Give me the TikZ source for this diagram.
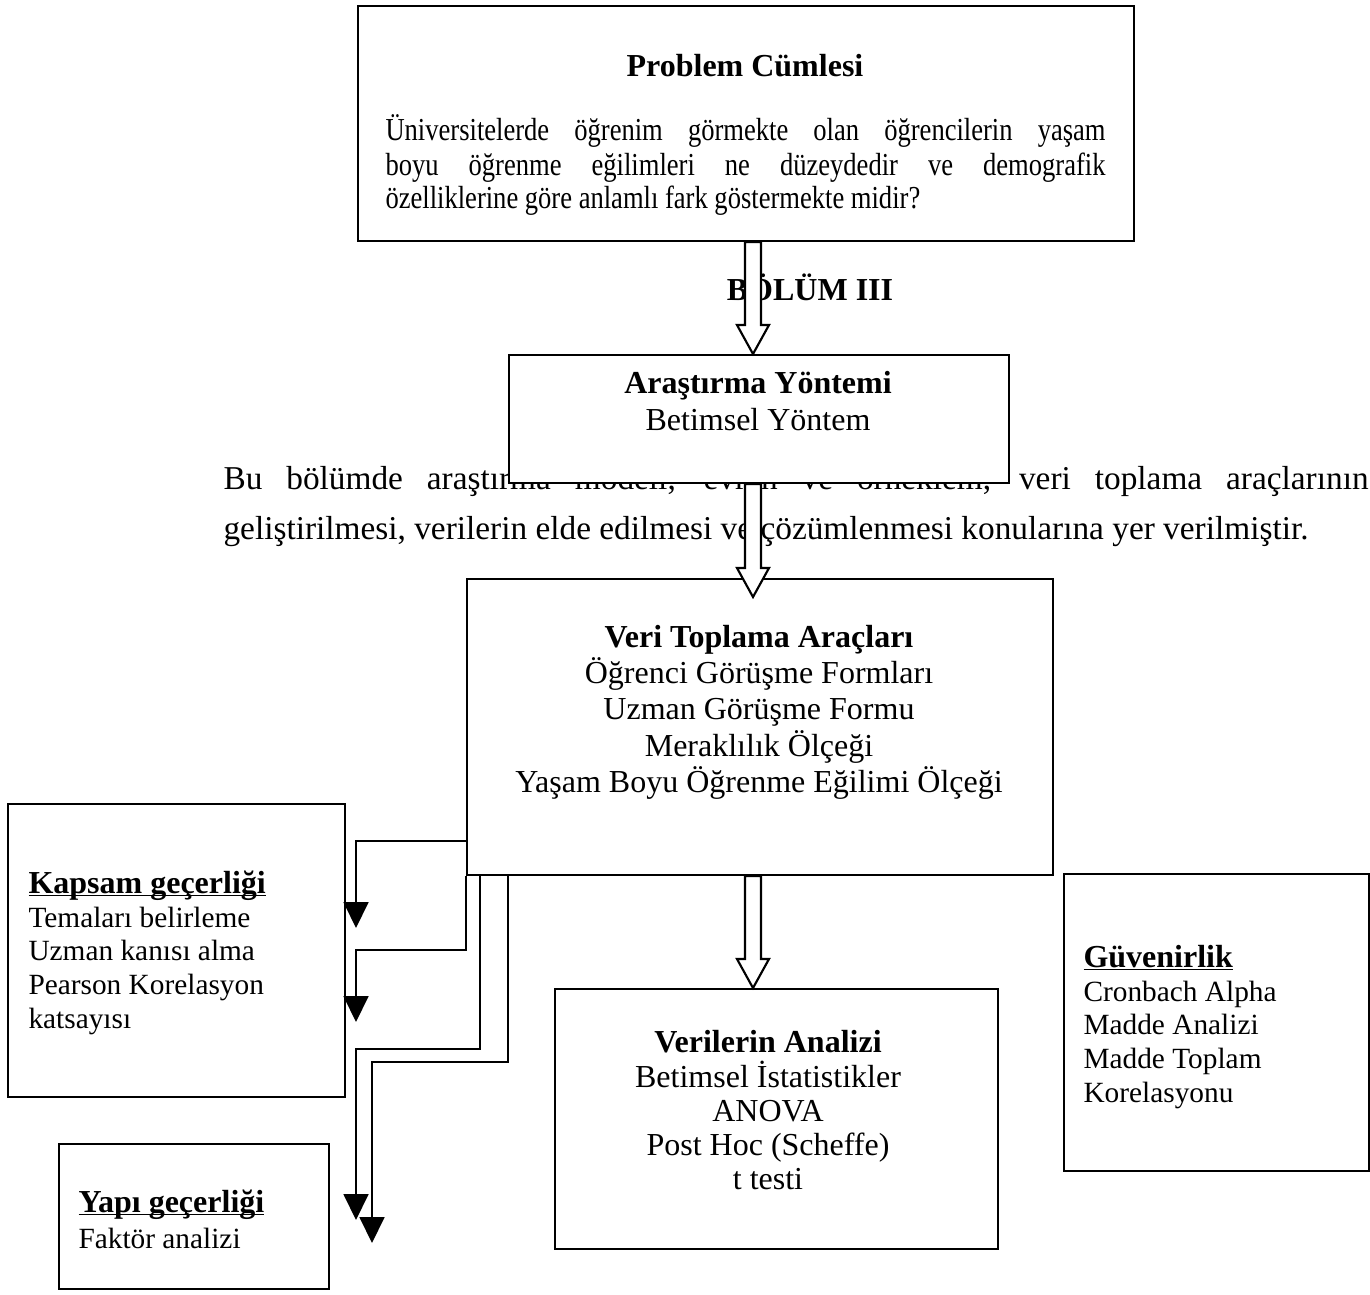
\documentclass[tikz,border=0pt]{standalone}
\usepackage{fontspec}
\setmainfont{Liberation Serif}
\newfontfamily\narrowserif[FakeStretch=0.83]{Liberation Serif}
\usetikzlibrary{arrows.meta,calc}

\newdimen\px
\px=0.375pt
\newsavebox{\ulbox}
\newcommand{\ulword}[1]{\sbox{\ulbox}{#1}\rlap{\rule[-1.3pt]{\wd\ulbox}{0.7pt}}\usebox{\ulbox}}
\newcommand{\hollowarrow}[2]{%
  \draw[hollow] ($(#1)+(-8,0)$) -- ($(#2)+(-8,-29)$) -- ++(-8,0) -- (#2)
    -- ++(16,-29) -- ++(-8,0) -- ($(#1)+(8,0)$) -- cycle;}

\tikzset{
  box/.style={draw, line width=0.8pt, fill=white, inner sep=0pt, anchor=north west},
  hollow/.style={draw, line width=0.8pt, fill=white},
  conn/.style={line width=0.6pt, -{Triangle[length=9.75pt,width=9.4pt]}},
  mid/.style={anchor=base, inner sep=0pt, font=\fontsize{12}{14}\selectfont},
  head/.style={mid, font=\fontsize{12}{14}\selectfont\bfseries},
  side/.style={anchor=base west, inner sep=0pt, font=\fontsize{11}{13}\selectfont},
  sidehead/.style={side, font=\fontsize{12}{14}\selectfont\bfseries},
  prose/.style={anchor=base west, inner sep=0pt},
  probtext/.style={prose, font=\narrowserif\fontsize{12}{14}\selectfont}
}

\begin{document}
\begin{tikzpicture}[x=0.375pt, y=-0.375pt]
  \useasboundingbox (0,0) rectangle (1370,1295);

  % paragraph behind the method box
  \node[prose, font=\fontsize{12.5}{15}\selectfont] (par1) at (223,489)
    {\makebox[1145\px][s]{Bu bölümde araştırma modeli, evren ve örneklem, veri toplama araçlarının}};
  \node[prose, font=\fontsize{12.5}{15}\selectfont] (par2) at (223,539)
    {geliştirilmesi, verilerin elde edilmesi ve çözümlenmesi konularına yer verilmiştir.};

  % boxes
  \node[box, minimum width=776\px, minimum height=235\px] (prob) at (357,5) {};
  \node[box, minimum width=500\px, minimum height=128\px] (arastirma) at (508,354) {};
  \node[box, minimum width=586\px, minimum height=296\px] (veri) at (466,578) {};
  \node[box, minimum width=337\px, minimum height=293\px] (kapsam) at (7,803) {};
  \node[box, minimum width=270\px, minimum height=145\px] (yapi) at (58,1143) {};
  \node[box, minimum width=443\px, minimum height=260\px] (analiz) at (554,988) {};
  \node[box, minimum width=305\px, minimum height=297\px] (guven) at (1063,873) {};

  % problem
  \node[head] (probbaslik) at (745,77) {Problem Cümlesi};
  \node[probtext] (prob1) at (385,141)
    {\makebox[720\px][s]{Üniversitelerde öğrenim görmekte olan öğrencilerin yaşam}};
  \node[probtext] (prob2) at (385,175)
    {\makebox[720\px][s]{boyu öğrenme eğilimleri ne düzeydedir ve demografik}};
  \node[probtext] (prob3) at (385,208)
    {özelliklerine göre anlamlı fark göstermekte midir?};

  \node[head] (bolum) at (810,300) {BÖLÜM III};

  % method
  \node[head] (arastirmabaslik) at (758,393) {Araştırma Yöntemi};
  \node[mid] (yontem) at (758,430) {Betimsel Yöntem};

  % data tools
  \node[head] (veribaslik) at (759,647) {Veri Toplama Araçları};
  \foreach \t [count=\i from 0] in {Öğrenci Görüşme Formları, Uzman Görüşme Formu,
      Meraklılık Ölçeği, Yaşam Boyu Öğrenme Eğilimi Ölçeği}
    \node[mid] (verisatir\i) at (759,683+36.5*\i) {\t};

  % validity and reliability
  \node[sidehead] (kapsambaslik) at (28,893) {\ulword{Kapsam geçerliği}};
  \foreach \t [count=\i from 0] in {Temaları belirleme, Uzman kanısı alma,
      Pearson Korelasyon, katsayısı}
    \node[side] (kapsamsatir\i) at (28,927+33.7*\i) {\t};

  \node[sidehead] (yapibaslik) at (78,1212) {\ulword{Yapı geçerliği}};
  \node[side] (faktor) at (78,1248) {Faktör analizi};

  \node[sidehead] (guvenbaslik) at (1083,967) {\ulword{Güvenirlik}};
  \foreach \t [count=\i from 0] in {Cronbach Alpha, Madde Analizi,
      Madde Toplam, Korelasyonu}
    \node[side] (guvensatir\i) at (1083,1001+33.7*\i) {\t};

  % analysis
  \node[head] (analizbaslik) at (768,1052) {Verilerin Analizi};
  \foreach \t [count=\i from 0] in {Betimsel İstatistikler, ANOVA,
      Post Hoc (Scheffe), t testi}
    \node[mid] (analizsatir\i) at (768,1087+34*\i) {\t};

  % block arrows
  \coordinate (ax) at (753,0);
  \coordinate (tip2) at ($(veri.north -| ax)+(0,19)$);
  \hollowarrow{prob.south -| ax}{arastirma.north -| ax}
  \hollowarrow{arastirma.south -| ax}{tip2}
  \hollowarrow{veri.south -| ax}{analiz.north -| ax}

  % connectors on the left
  \coordinate (ok1) at (356,928);
  \coordinate (ok2) at (356,1022);
  \coordinate (ok3) at (356,1220);
  \coordinate (ok4) at (372,1243);
  \draw[conn] ($(veri.south west)+(0,-35)$) -| (ok1);
  \draw[conn] (veri.south west) -- ++(0,74) -| (ok2);
  \draw[conn] ($(veri.south west)+(14,0)$) -- ++(0,173) -| (ok3);
  \draw[conn] ($(veri.south west)+(42,0)$) -- ++(0,186) -| (ok4);

\end{tikzpicture}
\end{document}
